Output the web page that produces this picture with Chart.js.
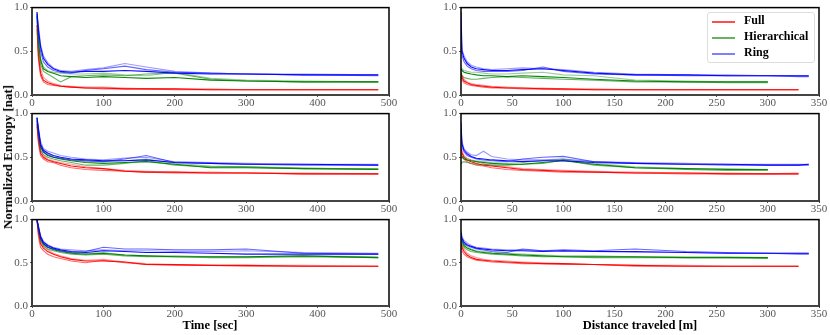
<!DOCTYPE html>
<html>
<head>
<meta charset="utf-8">
<script src="https://cdn.jsdelivr.net/npm/chart.js@4.4.1/dist/chart.umd.min.js"></script>
<style>
  body { margin: 0; background: #fff; width: 830px; height: 335px; position: relative; overflow: hidden; }
  .panel { position: absolute; }
  .lbl { position: absolute; font-family: "Liberation Serif", serif; font-weight: bold; font-size: 12.5px; color: #000; white-space: nowrap; }
  #legend { position: absolute; left: 707px; top: 12px; width: 106px; height: 49px; background: #fff;
            border: 1px solid #ddd; border-radius: 3px; }
  .row { position: absolute; left: 0; width: 100px; height: 14px; }
  .row .line { position: absolute; left: 4px; top: 7px; width: 23px; height: 1.5px; }
  .row .txt { position: absolute; left: 36px; top: -1px; font-family: "Liberation Serif", serif; font-weight: bold; font-size: 12px; }
</style>
</head>
<body>

<canvas id="c11" class="panel"></canvas>
<canvas id="c12" class="panel"></canvas>
<canvas id="c21" class="panel"></canvas>
<canvas id="c22" class="panel"></canvas>
<canvas id="c31" class="panel"></canvas>
<canvas id="c32" class="panel"></canvas>

<div class="lbl" style="left:8px; top:157px; font-size:13px; transform: translate(-50%,-50%) rotate(-90deg);">Normalized Entropy [nat]</div>
<div class="lbl" style="left:210px; top:325px; transform: translate(-50%,-50%);">Time [sec]</div>
<div class="lbl" style="left:640px; top:325px; transform: translate(-50%,-50%);">Distance traveled [m]</div>

<div id="legend">
  <div class="row" style="top:1px"><div class="line" style="background:rgba(255,0,0,0.7)"></div><div class="txt">Full</div></div>
  <div class="row" style="top:17px"><div class="line" style="background:rgba(0,128,0,0.6)"></div><div class="txt">Hierarchical</div></div>
  <div class="row" style="top:33px"><div class="line" style="background:rgba(0,0,255,0.5)"></div><div class="txt">Ring</div></div>
</div>

<script>
// x positions of the samples (time in sec, distance in m)
const timeX = [7, 9, 12, 16, 22, 30, 40, 55, 75, 100, 130, 160, 200, 250, 300, 380, 485];
const distX = [0, 1, 3, 6, 10, 15, 22, 30, 45, 60, 80, 100, 130, 170, 220, 260, 300, 330, 340];

const methods = ["Full", "Hierarchical", "Ring"];
const yTicks = [0.0, 0.5, 1.0];
const timeTicks = [0, 100, 200, 300, 400, 500];
const distTicks = [0, 50, 100, 150, 200, 250, 300, 350];

// row 1, time
const t1Full = [
  [0.80, 0.45, 0.25, 0.17, 0.14, 0.12, 0.10, 0.09, 0.08, 0.08, 0.07, 0.07, 0.07, 0.06, 0.06, 0.06, 0.06],
  [0.75, 0.40, 0.22, 0.15, 0.12, 0.11, 0.10, 0.09, 0.08, 0.07, 0.07, 0.07, 0.06, 0.06, 0.06, 0.06, 0.06],
  [0.85, 0.50, 0.30, 0.20, 0.16, 0.13, 0.11, 0.10, 0.09, 0.09, 0.08, 0.07, 0.07, 0.07, 0.06, 0.06, 0.06]
];
const t1Hier = [
  [0.93, 0.60, 0.40, 0.30, 0.27, 0.25, 0.22, 0.21, 0.20, 0.21, 0.20, 0.19, 0.20, 0.17, 0.16, 0.15, 0.15],
  [0.90, 0.55, 0.35, 0.27, 0.24, 0.20, 0.15, 0.21, 0.22, 0.23, 0.22, 0.24, 0.25, 0.18, 0.16, 0.15, 0.15],
  [0.95, 0.65, 0.42, 0.32, 0.28, 0.26, 0.25, 0.24, 0.24, 0.25, 0.23, 0.22, 0.26, 0.19, 0.17, 0.16, 0.15]
];
const t1Ring = [
  [0.95, 0.75, 0.55, 0.42, 0.35, 0.30, 0.27, 0.26, 0.27, 0.27, 0.28, 0.27, 0.25, 0.24, 0.24, 0.23, 0.23],
  [0.90, 0.70, 0.50, 0.38, 0.32, 0.28, 0.26, 0.25, 0.28, 0.30, 0.33, 0.29, 0.26, 0.25, 0.24, 0.23, 0.22],
  [0.93, 0.80, 0.58, 0.45, 0.37, 0.31, 0.28, 0.27, 0.29, 0.31, 0.36, 0.32, 0.27, 0.25, 0.24, 0.24, 0.23]
];

// row 2, time
const t2Full = [
  [0.88, 0.70, 0.55, 0.50, 0.47, 0.45, 0.43, 0.40, 0.38, 0.37, 0.34, 0.33, 0.33, 0.32, 0.32, 0.31, 0.31],
  [0.85, 0.65, 0.52, 0.48, 0.45, 0.44, 0.41, 0.38, 0.36, 0.35, 0.34, 0.33, 0.32, 0.32, 0.32, 0.31, 0.31],
  [0.90, 0.72, 0.58, 0.52, 0.48, 0.46, 0.44, 0.42, 0.39, 0.37, 0.35, 0.34, 0.33, 0.33, 0.32, 0.32, 0.31]
];
const t2Hier = [
  [0.95, 0.80, 0.62, 0.56, 0.52, 0.50, 0.48, 0.46, 0.44, 0.43, 0.44, 0.45, 0.42, 0.38, 0.38, 0.37, 0.36],
  [0.92, 0.75, 0.58, 0.53, 0.50, 0.48, 0.46, 0.44, 0.41, 0.41, 0.43, 0.46, 0.41, 0.39, 0.39, 0.37, 0.37],
  [0.96, 0.82, 0.65, 0.58, 0.54, 0.51, 0.49, 0.47, 0.45, 0.45, 0.46, 0.48, 0.43, 0.40, 0.39, 0.38, 0.36]
];
const t2Ring = [
  [0.95, 0.82, 0.65, 0.58, 0.55, 0.52, 0.50, 0.48, 0.47, 0.46, 0.46, 0.47, 0.44, 0.43, 0.42, 0.42, 0.41],
  [0.92, 0.78, 0.62, 0.56, 0.53, 0.50, 0.49, 0.47, 0.46, 0.45, 0.48, 0.52, 0.44, 0.43, 0.42, 0.41, 0.41],
  [0.96, 0.85, 0.68, 0.60, 0.57, 0.55, 0.52, 0.50, 0.48, 0.47, 0.49, 0.50, 0.45, 0.44, 0.43, 0.42, 0.42]
];

// row 3, time
const t3Full = [
  [1.00, 0.85, 0.72, 0.67, 0.63, 0.60, 0.57, 0.54, 0.52, 0.52, 0.51, 0.48, 0.48, 0.47, 0.47, 0.46, 0.46],
  [0.98, 0.80, 0.68, 0.64, 0.60, 0.57, 0.55, 0.52, 0.50, 0.53, 0.50, 0.48, 0.47, 0.47, 0.46, 0.46, 0.46],
  [1.00, 0.88, 0.75, 0.69, 0.65, 0.61, 0.58, 0.55, 0.53, 0.54, 0.51, 0.49, 0.48, 0.47, 0.47, 0.47, 0.46]
];
const t3Hier = [
  [1.00, 0.90, 0.78, 0.72, 0.68, 0.65, 0.63, 0.61, 0.60, 0.61, 0.59, 0.58, 0.57, 0.57, 0.57, 0.58, 0.56],
  [0.99, 0.88, 0.76, 0.70, 0.66, 0.64, 0.62, 0.60, 0.59, 0.60, 0.58, 0.57, 0.57, 0.56, 0.56, 0.57, 0.56],
  [1.00, 0.92, 0.80, 0.73, 0.69, 0.66, 0.64, 0.62, 0.61, 0.62, 0.59, 0.58, 0.58, 0.57, 0.57, 0.58, 0.57]
];
const t3Ring = [
  [1.00, 0.92, 0.80, 0.74, 0.70, 0.67, 0.65, 0.63, 0.62, 0.64, 0.63, 0.62, 0.62, 0.61, 0.60, 0.60, 0.60],
  [0.99, 0.90, 0.78, 0.72, 0.68, 0.66, 0.64, 0.62, 0.63, 0.68, 0.66, 0.66, 0.65, 0.65, 0.66, 0.61, 0.60],
  [1.00, 0.93, 0.82, 0.75, 0.71, 0.68, 0.66, 0.65, 0.64, 0.65, 0.64, 0.64, 0.63, 0.63, 0.64, 0.62, 0.61]
];

// row 1, distance
const d1Full = [
  [0.25, 0.20, 0.16, 0.14, 0.12, 0.11, 0.10, 0.09, 0.08, 0.08, 0.07, 0.07, 0.06, 0.06, 0.06, 0.06, 0.06, 0.06],
  [0.20, 0.17, 0.14, 0.12, 0.11, 0.10, 0.09, 0.08, 0.08, 0.07, 0.07, 0.06, 0.06, 0.06, 0.06, 0.06, 0.06, 0.06],
  [0.28, 0.22, 0.18, 0.15, 0.13, 0.12, 0.11, 0.10, 0.09, 0.08, 0.08, 0.07, 0.07, 0.06, 0.06, 0.06, 0.06, 0.06]
];
const d1Hier = [
  [0.30, 0.28, 0.26, 0.25, 0.24, 0.23, 0.22, 0.22, 0.21, 0.22, 0.21, 0.20, 0.18, 0.16, 0.15, 0.15, 0.15],
  [0.25, 0.22, 0.20, 0.19, 0.18, 0.18, 0.19, 0.20, 0.21, 0.20, 0.19, 0.18, 0.17, 0.15, 0.15, 0.14, 0.14],
  [0.32, 0.30, 0.28, 0.27, 0.26, 0.26, 0.25, 0.24, 0.24, 0.25, 0.26, 0.23, 0.22, 0.17, 0.16, 0.15, 0.15]
];
const d1Ring = [
  [0.95, 0.50, 0.42, 0.36, 0.32, 0.30, 0.29, 0.28, 0.28, 0.29, 0.30, 0.28, 0.25, 0.23, 0.23, 0.22, 0.22, 0.22, 0.22],
  [0.60, 0.45, 0.38, 0.33, 0.30, 0.28, 0.27, 0.27, 0.27, 0.28, 0.32, 0.27, 0.24, 0.23, 0.22, 0.22, 0.22, 0.21, 0.21],
  [0.70, 0.52, 0.45, 0.38, 0.34, 0.32, 0.30, 0.29, 0.30, 0.31, 0.30, 0.29, 0.26, 0.24, 0.23, 0.23, 0.22, 0.22, 0.22]
];

// row 2, distance
const d2Full = [
  [0.60, 0.55, 0.50, 0.47, 0.45, 0.43, 0.41, 0.40, 0.38, 0.36, 0.35, 0.34, 0.33, 0.32, 0.32, 0.31, 0.31, 0.31],
  [0.55, 0.52, 0.48, 0.45, 0.43, 0.41, 0.40, 0.38, 0.36, 0.35, 0.34, 0.33, 0.33, 0.32, 0.31, 0.31, 0.31, 0.31],
  [0.63, 0.57, 0.52, 0.49, 0.47, 0.45, 0.43, 0.41, 0.39, 0.37, 0.36, 0.35, 0.34, 0.33, 0.32, 0.32, 0.31, 0.32]
];
const d2Hier = [
  [0.50, 0.50, 0.48, 0.47, 0.46, 0.45, 0.44, 0.43, 0.42, 0.42, 0.44, 0.46, 0.42, 0.38, 0.37, 0.36, 0.36],
  [0.42, 0.44, 0.45, 0.44, 0.43, 0.42, 0.42, 0.41, 0.41, 0.42, 0.43, 0.47, 0.41, 0.38, 0.36, 0.35, 0.35],
  [0.52, 0.51, 0.50, 0.48, 0.47, 0.46, 0.45, 0.44, 0.43, 0.44, 0.46, 0.48, 0.43, 0.39, 0.37, 0.37, 0.36]
];
const d2Ring = [
  [0.90, 0.65, 0.58, 0.54, 0.51, 0.49, 0.48, 0.47, 0.46, 0.45, 0.46, 0.46, 0.44, 0.43, 0.42, 0.42, 0.41, 0.41, 0.42],
  [0.75, 0.62, 0.56, 0.52, 0.50, 0.48, 0.47, 0.46, 0.45, 0.48, 0.50, 0.51, 0.45, 0.43, 0.42, 0.41, 0.41, 0.41, 0.41],
  [0.80, 0.68, 0.60, 0.56, 0.53, 0.52, 0.57, 0.51, 0.48, 0.47, 0.47, 0.48, 0.45, 0.44, 0.43, 0.42, 0.42, 0.42, 0.42]
];

// row 3, distance
const d3Full = [
  [0.72, 0.68, 0.63, 0.59, 0.56, 0.54, 0.53, 0.52, 0.51, 0.50, 0.49, 0.49, 0.48, 0.47, 0.46, 0.46, 0.46, 0.46],
  [0.68, 0.64, 0.60, 0.57, 0.55, 0.53, 0.52, 0.51, 0.50, 0.49, 0.49, 0.48, 0.48, 0.46, 0.46, 0.46, 0.46, 0.46],
  [0.74, 0.70, 0.66, 0.61, 0.58, 0.56, 0.54, 0.53, 0.52, 0.51, 0.50, 0.49, 0.48, 0.47, 0.47, 0.46, 0.46, 0.46]
];
const d3Hier = [
  [0.78, 0.74, 0.70, 0.67, 0.65, 0.63, 0.62, 0.61, 0.60, 0.59, 0.58, 0.57, 0.57, 0.57, 0.56, 0.56, 0.56],
  [0.74, 0.71, 0.68, 0.65, 0.63, 0.62, 0.61, 0.60, 0.59, 0.58, 0.57, 0.57, 0.56, 0.56, 0.56, 0.56, 0.55],
  [0.80, 0.76, 0.72, 0.69, 0.66, 0.64, 0.63, 0.62, 0.61, 0.60, 0.59, 0.58, 0.58, 0.57, 0.57, 0.57, 0.56]
];
const d3Ring = [
  [0.85, 0.78, 0.74, 0.71, 0.69, 0.67, 0.66, 0.65, 0.64, 0.64, 0.63, 0.64, 0.63, 0.63, 0.62, 0.61, 0.61, 0.61, 0.61],
  [0.82, 0.76, 0.72, 0.70, 0.68, 0.66, 0.65, 0.63, 0.62, 0.66, 0.64, 0.65, 0.64, 0.66, 0.63, 0.62, 0.61, 0.60, 0.60],
  [0.88, 0.80, 0.76, 0.73, 0.70, 0.68, 0.67, 0.66, 0.65, 0.65, 0.64, 0.63, 0.63, 0.62, 0.62, 0.61, 0.61, 0.61, 0.61]
];

// colour per method, alpha per run
const rgb = { Full: "255,0,0", Hierarchical: "0,128,0", Ring: "0,0,255" };
const runAlpha = [0.95, 0.6, 0.4];

// plot areas in page pixels
const colsX = [[32, 389], [461, 819]];
const rowsY = [[7, 95], [113, 201], [219, 306]];
const padL = 30, padT = 8, padR = 14, padB = 18;

// frame around the plot area (bottom spine a bit heavier and grey)
const framePlugin = {
  id: "frame",
  afterDraw(chart) {
    const a = chart.chartArea, ctx = chart.ctx;
    ctx.save();
    ctx.strokeStyle = "#000";
    ctx.lineWidth = 1.5;
    ctx.strokeRect(a.left, a.top, a.right - a.left, a.bottom - a.top);
    ctx.strokeStyle = "#444";
    ctx.lineWidth = 2;
    ctx.beginPath();
    ctx.moveTo(a.left, a.bottom);
    ctx.lineTo(a.right, a.bottom);
    ctx.stroke();
    ctx.restore();
  }
};

function makePanel(id, row, col, xs, runsByMethod, xMax, xTicks) {
  const [x0, x1] = colsX[col];
  const [y0, y1] = rowsY[row];
  const canvas = document.getElementById(id);
  const w = (x1 - x0) + padL + padR;
  const h = (y1 - y0) + padT + padB;
  canvas.style.left = (x0 - padL) + "px";
  canvas.style.top = (y0 - padT) + "px";
  canvas.width = w; canvas.height = h;
  canvas.style.width = w + "px"; canvas.style.height = h + "px";

  const datasets = [];
  methods.forEach((m, mi) => {
    runsByMethod[mi].forEach((ys, ri) => {
      datasets.push({
        label: m,
        data: ys.map((y, i) => ({ x: xs[i], y: y })),
        borderColor: "rgba(" + rgb[m] + "," + runAlpha[ri] + ")",
        borderWidth: 1.1,
        pointRadius: 0,
        tension: 0,
        fill: false,
        order: 2 - mi
      });
    });
  });

  const tickFont = { family: "'Liberation Serif', serif", size: 11 };
  new Chart(canvas, {
    type: "line",
    data: { datasets: datasets },
    options: {
      responsive: false,
      animation: false,
      layout: { padding: { left: 0, top: padT, right: padR, bottom: 0 } },
      plugins: { legend: { display: false }, tooltip: { enabled: false } },
      scales: {
        x: {
          type: "linear", min: 0, max: xMax,
          afterBuildTicks: (s) => { s.ticks = xTicks.map(v => ({ value: v })); },
          afterFit: (s) => { s.height = padB; },
          ticks: { font: tickFont, color: "#555", padding: 0, maxRotation: 0 },
          grid: { drawOnChartArea: false, drawTicks: true, tickLength: 2, color: "#555" },
          border: { display: false }
        },
        y: {
          min: 0, max: 1,
          afterBuildTicks: (s) => { s.ticks = yTicks.map(v => ({ value: v })); },
          afterFit: (s) => { s.width = padL; },
          ticks: { font: tickFont, color: "#555", padding: 2, callback: (v) => v.toFixed(1) },
          grid: { drawOnChartArea: false, drawTicks: true, tickLength: 2, color: "#555" },
          border: { display: false }
        }
      }
    },
    plugins: [framePlugin]
  });
}

makePanel("c11", 0, 0, timeX, [t1Full, t1Hier, t1Ring], 500, timeTicks);
makePanel("c21", 1, 0, timeX, [t2Full, t2Hier, t2Ring], 500, timeTicks);
makePanel("c31", 2, 0, timeX, [t3Full, t3Hier, t3Ring], 500, timeTicks);
makePanel("c12", 0, 1, distX, [d1Full, d1Hier, d1Ring], 350, distTicks);
makePanel("c22", 1, 1, distX, [d2Full, d2Hier, d2Ring], 350, distTicks);
makePanel("c32", 2, 1, distX, [d3Full, d3Hier, d3Ring], 350, distTicks);
</script>
</body>
</html>
